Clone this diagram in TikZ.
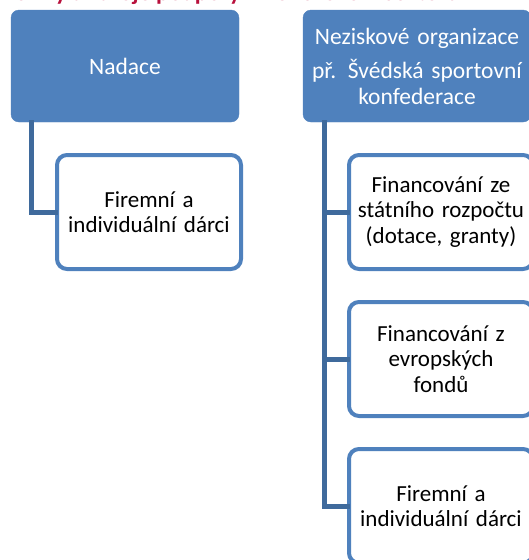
\documentclass[tikz,border=0pt]{standalone}
\usepackage{fontspec}
\setmainfont{Carlito}
\definecolor{boxblue}{HTML}{4F81BD}
\definecolor{linkblue}{HTML}{3F6A9C}
\definecolor{titlered}{HTML}{B8103C}
\tikzset{
  parentbox/.style={rectangle, rounded corners=8pt, fill=boxblue, draw=boxblue,
    minimum width=228pt, minimum height=112pt, text width=226pt, align=center,
    text=white, font=\fontsize{23.5}{26}\selectfont, inner sep=0pt},
  childbox/.style={rectangle, rounded corners=10pt, fill=white, draw=boxblue,
    line width=4pt, minimum width=184pt, minimum height=114pt, text width=180pt,
    align=center, text=black, font=\fontsize{23}{25.5}\selectfont, inner sep=0pt},
  link/.style={draw=linkblue, line width=5pt, line cap=rect}
}
\begin{document}
\begin{tikzpicture}[x=1pt,y=-1pt]
\useasboundingbox (0,0) rectangle (529,560);
\clip (0,0) rectangle (529,560);
% heading, largely above the visible area
\node[anchor=base west, text=titlered, font=\fontsize{24}{28}\selectfont\bfseries, inner sep=0pt]
  (title) at (4,0) {Formy a zdroje podpory v neziskovém sektoru};
% top level
\node[parentbox] (nadace) at (125,66) {Nadace};
\node[parentbox] (nzo) at (417,66) {Neziskové organizace\\[8pt]př. Švédská sportovní\\konfederace};
% second level
\node[childbox] (c0) at (149,212) {Firemní a\\individuální dárci};
\node[childbox] (c1) at (441,212) {Financování ze\\státního rozpočtu\\(dotace, granty)};
\node[childbox] (c2) at (441,359) {Financování z\\evropských\\fondů};
\node[childbox] (c3) at (441,506) {Firemní a\\individuální dárci};
% connectors
\draw[link] ([xshift=21pt]nadace.south west) |- (c0.west);
\draw[link] ([xshift=22pt]nzo.south west) |- (c3.west);
\draw[link] ([xshift=22pt]nzo.south west) |- (c1.west);
\draw[link] ([xshift=22pt]nzo.south west) |- (c2.west);
\end{tikzpicture}
\end{document}
